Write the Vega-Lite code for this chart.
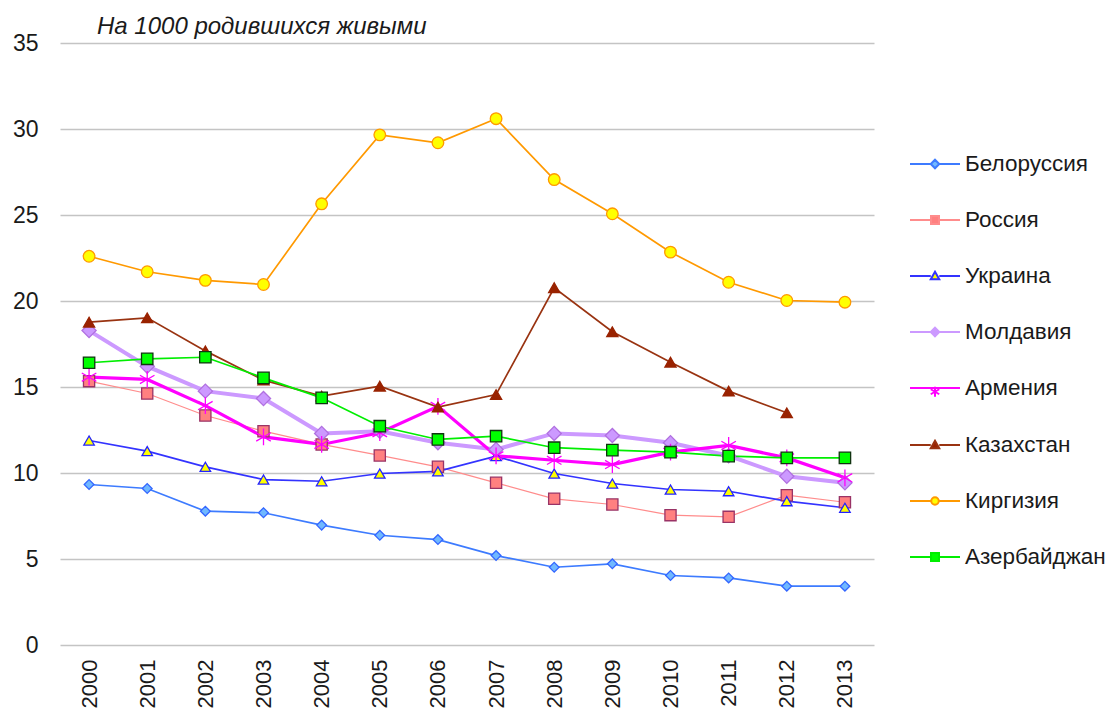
{
  "$schema": "https://vega.github.io/schema/vega-lite/v6.json",
  "width": 814,
  "height": 602,
  "autosize": {"type": "none"},
  "padding": {"left": 60, "top": 43, "right": 231, "bottom": 64},
  "background": "white",
  "config": {
    "view": {"stroke": null},
    "font": "Liberation Sans"
  },
  "title": {
    "text": "На 1000 родившихся живыми",
    "anchor": "start",
    "frame": "group",
    "dx": 37,
    "offset": -26,
    "baseline": "alphabetic",
    "fontSize": 24,
    "fontStyle": "italic",
    "fontWeight": "normal",
    "font": "Liberation Sans",
    "color": "#1a1a1a"
  },
  "data": {
    "values": [
      {"country": "Белоруссия", "year": "2000", "value": 9.33},
      {"country": "Белоруссия", "year": "2001", "value": 9.1},
      {"country": "Белоруссия", "year": "2002", "value": 7.78},
      {"country": "Белоруссия", "year": "2003", "value": 7.69},
      {"country": "Белоруссия", "year": "2004", "value": 6.97},
      {"country": "Белоруссия", "year": "2005", "value": 6.38},
      {"country": "Белоруссия", "year": "2006", "value": 6.13},
      {"country": "Белоруссия", "year": "2007", "value": 5.2},
      {"country": "Белоруссия", "year": "2008", "value": 4.52},
      {"country": "Белоруссия", "year": "2009", "value": 4.72},
      {"country": "Белоруссия", "year": "2010", "value": 4.04},
      {"country": "Белоруссия", "year": "2011", "value": 3.9},
      {"country": "Белоруссия", "year": "2012", "value": 3.42},
      {"country": "Белоруссия", "year": "2013", "value": 3.42},
      {"country": "Россия", "year": "2000", "value": 15.34},
      {"country": "Россия", "year": "2001", "value": 14.62},
      {"country": "Россия", "year": "2002", "value": 13.34},
      {"country": "Россия", "year": "2003", "value": 12.43},
      {"country": "Россия", "year": "2004", "value": 11.66},
      {"country": "Россия", "year": "2005", "value": 11.02},
      {"country": "Россия", "year": "2006", "value": 10.36},
      {"country": "Россия", "year": "2007", "value": 9.43},
      {"country": "Россия", "year": "2008", "value": 8.5},
      {"country": "Россия", "year": "2009", "value": 8.17},
      {"country": "Россия", "year": "2010", "value": 7.55},
      {"country": "Россия", "year": "2011", "value": 7.45},
      {"country": "Россия", "year": "2012", "value": 8.71},
      {"country": "Россия", "year": "2013", "value": 8.3},
      {"country": "Украина", "year": "2000", "value": 11.89},
      {"country": "Украина", "year": "2001", "value": 11.27},
      {"country": "Украина", "year": "2002", "value": 10.36},
      {"country": "Украина", "year": "2003", "value": 9.62},
      {"country": "Украина", "year": "2004", "value": 9.52},
      {"country": "Украина", "year": "2005", "value": 9.97},
      {"country": "Украина", "year": "2006", "value": 10.1},
      {"country": "Украина", "year": "2007", "value": 10.98},
      {"country": "Украина", "year": "2008", "value": 9.97},
      {"country": "Украина", "year": "2009", "value": 9.39},
      {"country": "Украина", "year": "2010", "value": 9.04},
      {"country": "Украина", "year": "2011", "value": 8.94},
      {"country": "Украина", "year": "2012", "value": 8.36},
      {"country": "Украина", "year": "2013", "value": 7.98},
      {"country": "Молдавия", "year": "2000", "value": 18.28},
      {"country": "Молдавия", "year": "2001", "value": 16.2},
      {"country": "Молдавия", "year": "2002", "value": 14.76},
      {"country": "Молдавия", "year": "2003", "value": 14.33},
      {"country": "Молдавия", "year": "2004", "value": 12.3},
      {"country": "Молдавия", "year": "2005", "value": 12.43},
      {"country": "Молдавия", "year": "2006", "value": 11.76},
      {"country": "Молдавия", "year": "2007", "value": 11.37},
      {"country": "Молдавия", "year": "2008", "value": 12.3},
      {"country": "Молдавия", "year": "2009", "value": 12.18},
      {"country": "Молдавия", "year": "2010", "value": 11.76},
      {"country": "Молдавия", "year": "2011", "value": 11.0},
      {"country": "Молдавия", "year": "2012", "value": 9.81},
      {"country": "Молдавия", "year": "2013", "value": 9.43},
      {"country": "Армения", "year": "2000", "value": 15.57},
      {"country": "Армения", "year": "2001", "value": 15.44},
      {"country": "Армения", "year": "2002", "value": 13.92},
      {"country": "Армения", "year": "2003", "value": 12.1},
      {"country": "Армения", "year": "2004", "value": 11.66},
      {"country": "Армения", "year": "2005", "value": 12.34},
      {"country": "Армения", "year": "2006", "value": 13.88},
      {"country": "Армения", "year": "2007", "value": 11.0},
      {"country": "Армения", "year": "2008", "value": 10.74},
      {"country": "Армения", "year": "2009", "value": 10.49},
      {"country": "Армения", "year": "2010", "value": 11.21},
      {"country": "Армения", "year": "2011", "value": 11.6},
      {"country": "Армения", "year": "2012", "value": 10.88},
      {"country": "Армения", "year": "2013", "value": 9.72},
      {"country": "Казахстан", "year": "2000", "value": 18.77},
      {"country": "Казахстан", "year": "2001", "value": 19.02},
      {"country": "Казахстан", "year": "2002", "value": 17.1},
      {"country": "Казахстан", "year": "2003", "value": 15.4},
      {"country": "Казахстан", "year": "2004", "value": 14.47},
      {"country": "Казахстан", "year": "2005", "value": 15.05},
      {"country": "Казахстан", "year": "2006", "value": 13.83},
      {"country": "Казахстан", "year": "2007", "value": 14.56},
      {"country": "Казахстан", "year": "2008", "value": 20.77},
      {"country": "Казахстан", "year": "2009", "value": 18.21},
      {"country": "Казахстан", "year": "2010", "value": 16.44},
      {"country": "Казахстан", "year": "2011", "value": 14.76},
      {"country": "Казахстан", "year": "2012", "value": 13.5},
      {"country": "Киргизия", "year": "2000", "value": 22.6},
      {"country": "Киргизия", "year": "2001", "value": 21.7},
      {"country": "Киргизия", "year": "2002", "value": 21.2},
      {"country": "Киргизия", "year": "2003", "value": 20.96},
      {"country": "Киргизия", "year": "2004", "value": 25.65},
      {"country": "Киргизия", "year": "2005", "value": 29.66},
      {"country": "Киргизия", "year": "2006", "value": 29.2},
      {"country": "Киргизия", "year": "2007", "value": 30.6},
      {"country": "Киргизия", "year": "2008", "value": 27.06},
      {"country": "Киргизия", "year": "2009", "value": 25.07},
      {"country": "Киргизия", "year": "2010", "value": 22.84},
      {"country": "Киргизия", "year": "2011", "value": 21.09},
      {"country": "Киргизия", "year": "2012", "value": 20.03},
      {"country": "Киргизия", "year": "2013", "value": 19.93},
      {"country": "Азербайджан", "year": "2000", "value": 16.41},
      {"country": "Азербайджан", "year": "2001", "value": 16.64},
      {"country": "Азербайджан", "year": "2002", "value": 16.73},
      {"country": "Азербайджан", "year": "2003", "value": 15.53},
      {"country": "Азербайджан", "year": "2004", "value": 14.37},
      {"country": "Азербайджан", "year": "2005", "value": 12.72},
      {"country": "Азербайджан", "year": "2006", "value": 11.95},
      {"country": "Азербайджан", "year": "2007", "value": 12.14},
      {"country": "Азербайджан", "year": "2008", "value": 11.47},
      {"country": "Азербайджан", "year": "2009", "value": 11.33},
      {"country": "Азербайджан", "year": "2010", "value": 11.21},
      {"country": "Азербайджан", "year": "2011", "value": 10.98},
      {"country": "Азербайджан", "year": "2012", "value": 10.88},
      {"country": "Азербайджан", "year": "2013", "value": 10.88}
    ]
  },
  "encoding": {
    "x": {
      "field": "year",
      "type": "ordinal",
      "scale": {"padding": 0.5},
      "axis": {
        "title": null,
        "labelAngle": -90,
        "domain": false,
        "ticks": false,
        "grid": false,
        "labelPadding": 14,
        "labelFontSize": 22,
        "labelFont": "Liberation Sans",
        "labelColor": "#1a1a1a"
      }
    },
    "y": {
      "field": "value",
      "type": "quantitative",
      "scale": {"domain": [0, 35], "nice": false},
      "axis": {
        "title": null,
        "values": [0, 5, 10, 15, 20, 25, 30, 35],
        "domain": false,
        "ticks": false,
        "labelPadding": 22,
        "labelFontSize": 23,
        "labelFont": "Liberation Sans",
        "labelColor": "#1a1a1a",
        "gridColor": "#c4c4c4",
        "gridWidth": 1.5
      }
    }
  },
  "layer": [
    {
      "mark": {"type": "line"},
      "encoding": {
        "color": {
          "field": "country",
          "type": "nominal",
          "scale": {
            "domain": ["Белоруссия", "Россия", "Украина", "Молдавия", "Армения", "Казахстан", "Киргизия", "Азербайджан"],
            "range": ["#3d7bff", "#ff8c8c", "#3333ff", "#cc99ff", "#ff00ff", "#993311", "#ff9900", "#00ee00"]
          },
          "legend": {
            "title": null,
            "orient": "none",
            "legendX": 849,
            "legendY": 95,
            "direction": "vertical",
            "padding": 0,
            "symbolSize": 2500,
            "rowPadding": 18,
            "labelOffset": 4,
            "labelFontSize": 22.5,
            "labelFont": "Liberation Sans",
            "labelColor": "#1a1a1a",
            "labelLimit": 200,
            "encode": {
              "symbols": {
                "update": {
                  "shape": {"signal": "['M-1,0H-0.17M0.17,0H1M0,-0.17L0.17,0L0,0.17L-0.17,0Z','M-1,0H-0.16M0.16,0H1M-0.16,-0.16H0.16V0.16H-0.16Z','M-1,0H-0.17M0.17,0H1M0,-0.17L0.17,0.13L-0.17,0.13Z','M-1,0H-0.17M0.17,0H1M0,-0.17L0.17,0L0,0.17L-0.17,0Z','M-1,0H1M0,-0.05V0.35M-0.17,0.05L0.17,0.25M-0.17,0.25L0.17,0.05','M-1,0H-0.17M0.17,0H1M0,-0.17L0.17,0.13L-0.17,0.13Z','M-1,0H-0.15M0.15,0H1M0.15,0A0.15,0.15,0,1,1,-0.15,0A0.15,0.15,0,1,1,0.15,0Z','M-1,0H-0.16M0.16,0H1M-0.16,-0.16H0.16V0.16H-0.16Z'][indexof(['Белоруссия','Россия','Украина','Молдавия','Армения','Казахстан','Киргизия','Азербайджан'], datum.value)]"},
                  "fill": {"signal": "scale('fill', datum.value)"},
                  "strokeWidth": {"value": 2},
                  "opacity": {"value": 1},
                  "size": {"value": 2500}
                }
              }
            }
          }
        },
        "strokeWidth": {
          "condition": [
            {"test": "datum.country === 'Молдавия'", "value": 4},
            {"test": "datum.country === 'Армения'", "value": 3.2},
            {"test": "datum.country === 'Россия'", "value": 1.2}
          ],
          "value": 1.7
        }
      }
    },
    {
      "mark": {"type": "point", "opacity": 1, "strokeWidth": 1.3},
      "encoding": {
        "shape": {
          "field": "country",
          "type": "nominal",
          "scale": {
            "domain": ["Азербайджан", "Киргизия", "Казахстан", "Армения", "Молдавия", "Украина", "Россия", "Белоруссия"],
            "range": ["square", "circle", "triangle-up", "M0,-1V1M-0.87,-0.5L0.87,0.5M-0.87,0.5L0.87,-0.5", "diamond", "triangle-up", "square", "diamond"]
          },
          "legend": null
        },
        "fill": {
          "field": "country",
          "type": "nominal",
          "scale": {
            "domain": ["Азербайджан", "Киргизия", "Казахстан", "Армения", "Молдавия", "Украина", "Россия", "Белоруссия"],
            "range": ["#00ff00", "#ffff00", "#992200", "#ff00ff", "#cc99ff", "#ffff00", "#ff8080", "#70b8ff"]
          },
          "legend": null
        },
        "stroke": {
          "field": "country",
          "type": "nominal",
          "scale": {
            "domain": ["Азербайджан", "Киргизия", "Казахстан", "Армения", "Молдавия", "Украина", "Россия", "Белоруссия"],
            "range": ["#113311", "#ff9900", "#992200", "#ff00ff", "#b070e0", "#2222ff", "#993366", "#3366ff"]
          },
          "legend": null
        },
        "size": {
          "condition": [
            {"test": "datum.country === 'Белоруссия'", "value": 95},
            {"test": "datum.country === 'Россия'", "value": 125},
            {"test": "datum.country === 'Украина'", "value": 110},
            {"test": "datum.country === 'Молдавия'", "value": 200},
            {"test": "datum.country === 'Армения'", "value": 280},
            {"test": "datum.country === 'Казахстан'", "value": 125},
            {"test": "datum.country === 'Киргизия'", "value": 135}
          ],
          "value": 130
        }
      }
    }
  ]
}
